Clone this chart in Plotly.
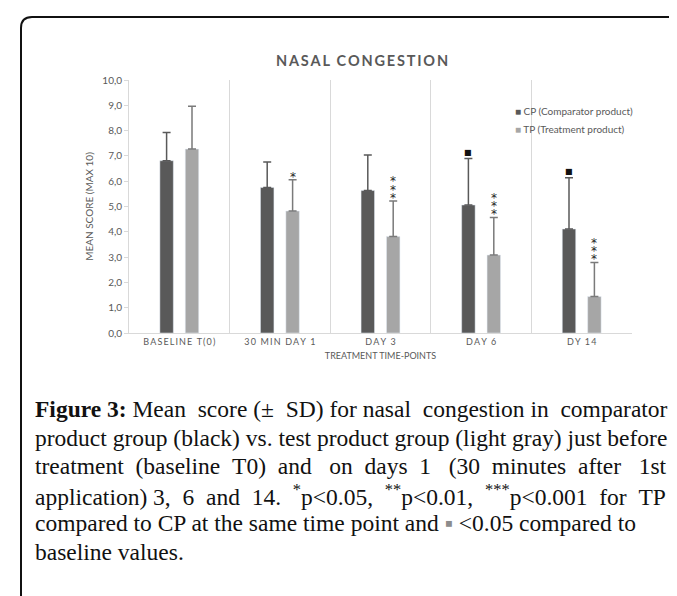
import plotly.graph_objects as go

# Dados do gráfico
categories = ["BASELINE T(0)", "30 MIN DAY 1", "DAY 3", "DAY 6", "DY 14"]
cp_mean = [6.81, 5.75, 5.63, 5.06, 4.11]
cp_sd = [1.11, 1.01, 1.41, 1.84, 2.03]
tp_mean = [7.27, 4.82, 3.81, 3.08, 1.44]
tp_sd = [1.69, 1.24, 1.41, 1.49, 1.35]
tp_stars = ["", "*", "***", "***", "***"]
cp_baseline_sig = [False, False, False, True, True]
y_ticks = [0, 1, 2, 3, 4, 5, 6, 7, 8, 9, 10]
y_ticktext = [f"{v:.1f}".replace(".", ",") for v in y_ticks]

# Texto da legenda da figura: (palavras, nº de espaços extra para justificar)
caption_lines = [
    (["<b>Figure", "3:</b>", "Mean", "score", "(±", "SD)", "for", "nasal", "congestion", "in", "comparator"], 4),
    (["product", "group", "(black)", "vs.", "test", "product", "group", "(light", "gray)", "just", "before"], 0),
    (["treatment", "(baseline", "T0)", "and", "on", "days", "1", "(30", "minutes", "after", "1st"], 13),
    (["application)", "3,", "6", "and", "14.", "<sup>*</sup>p&lt;0.05,", "<sup>**</sup>p&lt;0.01,",
      "<sup>***</sup>p&lt;0.001", "for", "TP"], 8),
    (["compared", "to", "CP", "at", "the", "same", "time", "point", "and",
      "<span style='color:#8c8c8c'>▪</span>", "&lt;0.05", "compared", "to"], 0),
    (["baseline", "values."], 0),
]

# Geometria (pixels)
W, H = 677, 596
L, R, T, B = 121, 53, 72, 271
PW, PH = W - L - R, H - T - B


def px(x):
    return (x - L) / PW


def py(y):
    return (H - B - y) / PH


def spaced(text, sep="\u2009"):
    return sep.join(text).replace(sep + " " + sep, "  ")


def justify(words, extra):
    # espalha os espaços extra (nbsp) pelas lacunas entre palavras
    gaps = len(words) - 1
    out = words[0]
    for i, w in enumerate(words[1:]):
        n = (extra * (i + 1)) // gaps - (extra * i) // gaps
        out += " " + "\u00a0" * n + w
    return out


CP_COLOR = "#595959"
TP_COLOR = "#a6a6a6"
TEXT_GRAY = "#595959"
GRID = "#d9d9d9"
FONT = "Lato"

fig = go.Figure()

fig.add_trace(go.Bar(
    x=categories, y=cp_mean, name="CP (Comparator product)",
    marker_color=CP_COLOR, showlegend=False,
    error_y=dict(type="data", array=cp_sd, arrayminus=[0] * len(cp_sd),
                 symmetric=False, color=CP_COLOR, thickness=1.5, width=4),
))
fig.add_trace(go.Bar(
    x=categories, y=tp_mean, name="TP (Treatment product)",
    marker_color=TP_COLOR, showlegend=False,
    error_y=dict(type="data", array=tp_sd, arrayminus=[0] * len(tp_sd),
                 symmetric=False, color="#7a7a7a", thickness=1.5, width=4),
))

OFFSET = 12.75  # deslocamento do centro de cada barra no grupo

# Asteriscos de significância (TP vs CP)
for cat, m, s, stars in zip(categories, tp_mean, tp_sd, tp_stars):
    for i in range(len(stars)):
        fig.add_annotation(
            x=cat, y=m + s, xref="x", yref="y", text="*", showarrow=False,
            xshift=OFFSET, yshift=3 + 8.4 * i, yanchor="middle",
            font=dict(family="DejaVu Sans", size=12, color="#262626"),
        )

# Quadrados: diferença vs baseline
for cat, m, s, sig in zip(categories, cp_mean, cp_sd, cp_baseline_sig):
    if sig:
        fig.add_annotation(
            x=cat, y=m + s, xref="x", yref="y", text="■", showarrow=False,
            xshift=-OFFSET, yshift=6, yanchor="middle",
            font=dict(family="DejaVu Sans", size=8, color="#111"),
        )

# Legenda
for i, (name, col) in enumerate([("CP (Comparator product)", CP_COLOR),
                                 ("TP (Treatment product)", TP_COLOR)]):
    fig.add_annotation(
        x=px(505), y=py(103 + 18 * i), xref="paper", yref="paper",
        xanchor="left", yanchor="middle", showarrow=False,
        text=f"<span style='color:{col}'>■</span> {name}",
        font=dict(family=FONT, size=10, color=TEXT_GRAY),
    )

# Legenda da figura (uma anotação por linha)
for i, (words, extra) in enumerate(caption_lines):
    fig.add_annotation(
        x=px(25), y=py(401 + 28.5 * i), xref="paper", yref="paper",
        xanchor="left", yanchor="middle", align="left", showarrow=False,
        text=justify(words, extra),
        font=dict(family="Liberation Serif", size=23.5, color="#111"),
    )

# Moldura com canto arredondado
r = 11
fig.add_shape(
    type="path", xref="paper", yref="paper",
    path=(f"M {px(13)},{py(H + 5)} L {px(13)},{py(9 + r)} "
          f"Q {px(13)},{py(9)} {px(13 + r)},{py(9)} L {px(W + 5)},{py(9)}"),
    line=dict(color="#111", width=2),
)

fig.update_layout(
    width=W, height=H,
    margin=dict(l=L, r=R, t=T, b=B),
    paper_bgcolor="white", plot_bgcolor="white",
    barmode="group", bargap=0.495, bargroupgap=0.47,
    title=dict(text=spaced("NASAL CONGESTION"),
               x=px(354), xref="paper", xanchor="center",
               y=1 - 53 / H, yanchor="middle",
               font=dict(family=FONT, size=14.5, color=TEXT_GRAY, weight="bold")),
    font=dict(family=FONT, color=TEXT_GRAY),
    xaxis=dict(
        tickvals=categories,
        ticktext=[spaced(c) for c in categories],
        tickfont=dict(size=9, color=TEXT_GRAY),
        showgrid=True, gridcolor=GRID, gridwidth=1, tickson="boundaries",
        showline=True, linecolor=GRID, ticks="",
        title=dict(text="TREATMENT TIME-POINTS", font=dict(size=9, color=TEXT_GRAY), standoff=6),
    ),
    yaxis=dict(
        range=[0, 10], tickvals=y_ticks, ticktext=y_ticktext,
        tickfont=dict(size=10, color=TEXT_GRAY),
        showgrid=False, zeroline=False, showline=True, linecolor=GRID,
        ticks="outside", ticklen=4, tickcolor=GRID,
        title=dict(text="MEAN SCORE (MAX 10)", font=dict(size=10, color=TEXT_GRAY), standoff=6),
    ),
)

fig.write_html("out.html")
